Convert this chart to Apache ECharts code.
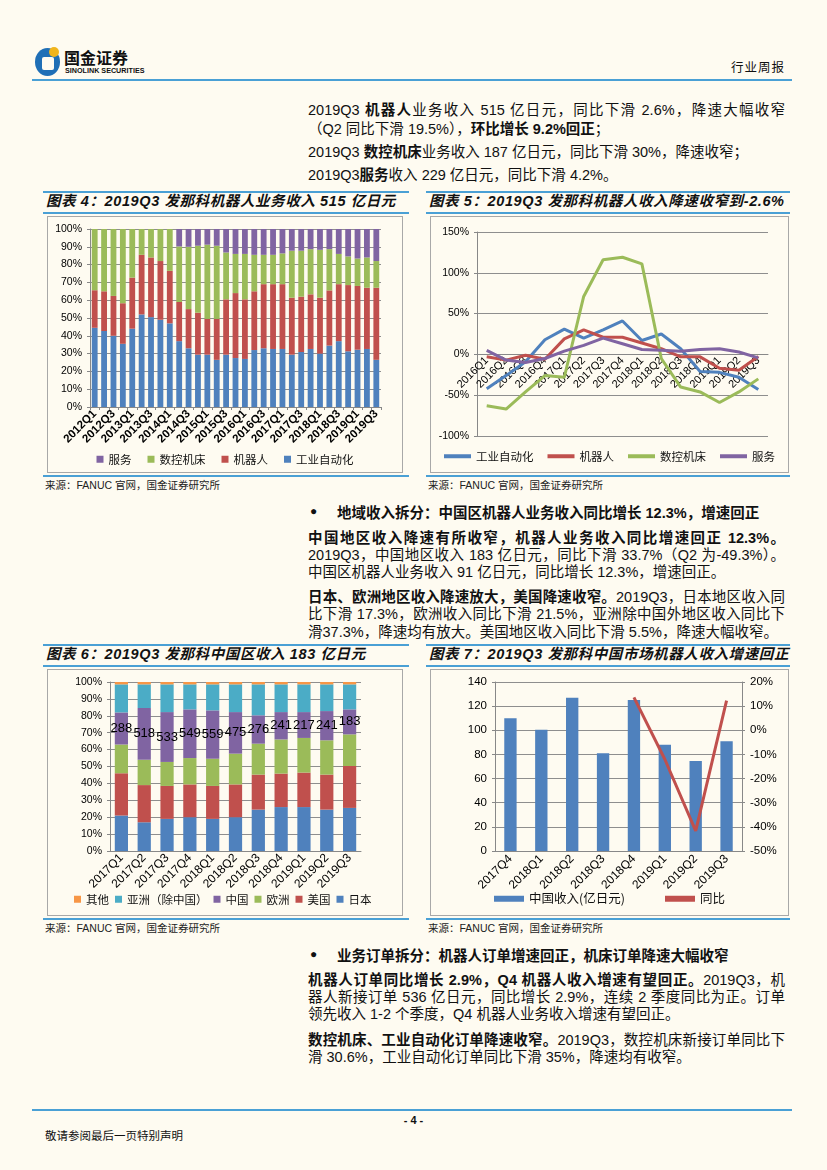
<!DOCTYPE html>
<html><head><meta charset="utf-8">
<script src="https://cdn.jsdelivr.net/npm/echarts@6/dist/echarts.min.js"></script>
<style>
html,body{margin:0;padding:0;}
body{width:827px;height:1170px;background:#fefbf1;position:relative;overflow:hidden;
 font-family:"Liberation Sans Narrow","Liberation Sans","Noto Sans CJK SC",sans-serif;color:#111;}
.abs{position:absolute;}
.hl{position:absolute;height:2px;background:#4aa0d5;}
.ln{position:absolute;left:308px;width:477px;font-size:14.5px;line-height:18px;height:18px;white-space:normal;}
.j{text-align:justify;text-align-last:justify;}
.ln b{font-weight:bold;}
.ttl{position:absolute;font-size:14.5px;font-weight:bold;font-style:italic;letter-spacing:0.6px;line-height:18px;
 font-family:"Liberation Sans","Noto Sans CJK SC",sans-serif;}
.src{position:absolute;font-size:10.5px;line-height:12px;color:#222;}
.box{position:absolute;border:1px solid #a8a8a8;box-sizing:border-box;}
.bul{position:absolute;left:310px;font-size:12px;}
</style></head>
<body>
<!-- header -->
<div class="abs" style="left:35px;top:48px;width:25px;height:28px;border-radius:50%;background:#1f6fb6;"></div>
<div class="abs" style="left:42px;top:57px;width:12px;height:13px;background:#fefbf1;border-radius:2px;"></div>
<div class="abs" style="left:49px;top:47px;width:10px;height:10px;border-radius:50%;background:#f1b51c;"></div>
<div class="abs" style="left:64px;top:47px;font-size:16px;font-weight:bold;font-family:'Noto Sans CJK SC';line-height:20px;">国金证券</div>
<div class="abs" style="left:65px;top:66px;font-size:7.2px;font-weight:bold;font-family:'Liberation Sans';line-height:9px;">SINOLINK SECURITIES</div>
<div class="abs" style="right:42px;top:59px;font-size:12.5px;line-height:16px;font-family:'Noto Sans CJK SC';letter-spacing:1px;">行业周报</div>
<div class="hl" style="left:32px;width:760px;top:79px;"></div>

<div class="ln j" style="top:101px;">2019Q3 <b>机器人</b>业务收入 515 亿日元，同比下滑 2.6%，降速大幅收窄</div>
<div class="ln" style="top:120px;">（Q2 同比下滑 19.5%），<b>环比增长 9.2%回正</b>；</div>
<div class="ln" style="top:143px;">2019Q3 <b>数控机床</b>业务收入 187 亿日元，同比下滑 30%，降速收窄；</div>
<div class="ln" style="top:166px;">2019Q3<b>服务</b>收入 229 亿日元，同比下滑 4.2%。</div>

<!-- chart titles row 1 -->
<div class="hl" style="left:43px;width:366px;top:191px;"></div>
<div class="hl" style="left:426px;width:364px;top:191px;"></div>
<div class="ttl" style="left:46px;top:192px;">图表 4：2019Q3 发那科机器人业务收入 515 亿日元</div>
<div class="ttl" style="left:429px;top:192px;">图表 5：2019Q3 发那科机器人收入降速收窄到-2.6%</div>
<div class="hl" style="left:43px;width:366px;top:212px;"></div>
<div class="hl" style="left:426px;width:364px;top:212px;"></div>
<div class="box" style="left:47px;top:216px;width:356px;height:257px;"></div>
<div class="box" style="left:430px;top:216px;width:359px;height:257px;"></div>
<div id="c4" class="abs" style="left:47px;top:216px;width:356px;height:257px;"></div>
<div id="c5" class="abs" style="left:430px;top:216px;width:359px;height:257px;"></div>
<div class="hl" style="left:43px;width:366px;top:475px;"></div>
<div class="hl" style="left:426px;width:364px;top:475px;"></div>
<div class="src" style="left:45px;top:479px;">来源：FANUC 官网，国金证券研究所</div>
<div class="src" style="left:428px;top:479px;">来源：FANUC 官网，国金证券研究所</div>

<div class="bul" style="top:504px;">●</div>
<div class="ln" style="left:337px;top:504px;width:450px;"><b>地域收入拆分：中国区机器人业务收入同比增长 12.3%，增速回正</b></div>
<div class="ln j" style="top:529px;"><b>中国地区收入降速有所收窄，机器人业务收入同比增速回正 12.3%。</b></div>
<div class="ln j" style="top:546px;">2019Q3，中国地区收入 183 亿日元，同比下滑 33.7%（Q2 为-49.3%）。</div>
<div class="ln" style="top:563px;">中国区机器人业务收入 91 亿日元，同比增长 12.3%，增速回正。</div>
<div class="ln j" style="top:588px;"><b>日本、欧洲地区收入降速放大，美国降速收窄。</b>2019Q3，日本地区收入同</div>
<div class="ln j" style="top:605px;">比下滑 17.3%，欧洲收入同比下滑 21.5%，亚洲除中国外地区收入同比下</div>
<div class="ln j" style="top:623px;width:470px;">滑37.3%，降速均有放大。美国地区收入同比下滑 5.5%，降速大幅收窄。</div>

<!-- chart titles row 2 -->
<div class="hl" style="left:43px;width:366px;top:644px;"></div>
<div class="hl" style="left:426px;width:364px;top:644px;"></div>
<div class="ttl" style="left:46px;top:645px;">图表 6：2019Q3 发那科中国区收入 183 亿日元</div>
<div class="ttl" style="left:429px;top:645px;">图表 7：2019Q3 发那科中国市场机器人收入增速回正</div>
<div class="hl" style="left:43px;width:366px;top:665px;"></div>
<div class="hl" style="left:426px;width:364px;top:665px;"></div>
<div class="box" style="left:47px;top:669px;width:356px;height:247px;"></div>
<div class="box" style="left:430px;top:669px;width:359px;height:247px;"></div>
<div id="c6" class="abs" style="left:47px;top:669px;width:356px;height:247px;"></div>
<div id="c7" class="abs" style="left:430px;top:669px;width:359px;height:247px;"></div>
<div class="hl" style="left:43px;width:366px;top:918px;"></div>
<div class="hl" style="left:426px;width:364px;top:918px;"></div>
<div class="src" style="left:45px;top:922px;">来源：FANUC 官网，国金证券研究所</div>
<div class="src" style="left:428px;top:922px;">来源：FANUC 官网，国金证券研究所</div>

<div class="bul" style="top:947px;">●</div>
<div class="ln" style="left:337px;top:947px;width:450px;"><b>业务订单拆分：机器人订单增速回正，机床订单降速大幅收窄</b></div>
<div class="ln j" style="top:971px;"><b>机器人订单同比增长 2.9%，Q4 机器人收入增速有望回正。</b>2019Q3，机</div>
<div class="ln j" style="top:988px;">器人新接订单 536 亿日元，同比增长 2.9%，连续 2 季度同比为正。订单</div>
<div class="ln" style="top:1005px;">领先收入 1-2 个季度，Q4 机器人业务收入增速有望回正。</div>
<div class="ln j" style="top:1031px;"><b>数控机床、工业自动化订单降速收窄。</b>2019Q3，数控机床新接订单同比下</div>
<div class="ln" style="top:1048px;">滑 30.6%，工业自动化订单同比下滑 35%，降速均有收窄。</div>

<div class="hl" style="left:32px;width:760px;top:1109px;"></div>
<div class="abs" style="left:400px;top:1113px;width:27px;text-align:center;font-size:11px;font-weight:bold;line-height:14px;">- 4 -</div>
<div class="abs" style="left:45px;top:1128px;font-size:11.5px;line-height:14px;font-family:'Noto Sans CJK SC';">敬请参阅最后一页特别声明</div>

<script>
// ---------- data ----------
const quarters4 = ['2012Q1','2012Q2','2012Q3','2012Q4','2013Q1','2013Q2','2013Q3','2013Q4','2014Q1','2014Q2','2014Q3','2014Q4','2015Q1','2015Q2','2015Q3','2015Q4','2016Q1','2016Q2','2016Q3','2016Q4','2017Q1','2017Q2','2017Q3','2017Q4','2018Q1','2018Q2','2018Q3','2018Q4','2019Q1','2019Q2','2019Q3'];
const shareFA    = [44.5,42.7,40,35.5,44,52,50.5,49,47,37,33,29.4,29.4,26.5,29.4,27.5,27,32,33,32.6,32.6,29.4,30.9,32.6,30,34.5,37,31.3,32.2,32.6,26.5];
const shareRobot = [21.1,22.3,22.4,22.8,28.7,33.5,33.5,33,29.5,22,22,23.6,20.1,23,31.1,36.5,33.5,33,36,36.4,36.4,32,31.1,30.7,31.4,31,32,37.2,35.8,34.4,40.5];
const shareCNC   = [34.4,35,37.6,41.7,27.3,14.5,16,18,23.5,31.2,35,37.6,41.7,41.1,26.3,22,25.5,20.5,16.5,16.5,17.3,26.4,25.8,25.4,26.9,23.2,17,16.1,15.4,17,15];
const shareSvc   = [0,0,0,0,0,0,0,0,0,9.8,10,9.4,8.8,9.4,13.2,14,14,14.5,14.5,14.5,13.7,12.2,12.2,11.3,11.7,11.3,14,15.4,16.6,16,18];

const quarters5 = ['2016Q1','2016Q2','2016Q3','2016Q4','2017Q1','2017Q2','2017Q3','2017Q4','2018Q1','2018Q2','2018Q3','2018Q4','2019Q1','2019Q2','2019Q3'];
const yoyFA    = [-42,-26,-9,18,31,20,30,41,17,25,7,-21,-22,-28,-43];
const yoyRobot = [-3,-7,-1,-6,19,30,21,21,14,7,-3,-3,-17,-19.5,-2.6];
const yoyCNC   = [-63,-67,-46,-26,-28,71,116,119,111,-5,-40,-46,-59,-46,-30];
const yoySvc   = [5,-7,-10,-5,4,11,20,13,6,5,4,6,7,3,-4.2];

const quarters6 = ['2017Q1','2017Q2','2017Q3','2017Q4','2018Q1','2018Q2','2018Q3','2018Q4','2019Q1','2019Q2','2019Q3'];
const regJapan = [21,17,19,20,19,20,24.5,26,26,24.5,25.5];
const regUS    = [25,22,19.5,19.4,19.5,19.4,20.7,19.8,20.4,20.7,24.8];
const regEU    = [17,15,14.2,15.6,16.1,18.2,18.3,20.2,20.5,20.3,18.7];
const regChina = [19,30.6,29.5,28.8,28.6,24.6,16.8,16.2,15.3,17.3,14.8];
const regAsia  = [16.6,14,16.4,14.8,15.4,16.4,18.3,16.4,16.4,15.8,14.8];
const regOther = [1.4,1.4,1.4,1.4,1.4,1.4,1.4,1.4,1.4,1.4,1.4];
const chinaRevenue = [288,518,533,549,559,475,276,241,217,241,183];

const quarters7 = ['2017Q4','2018Q1','2018Q2','2018Q3','2018Q4','2019Q1','2019Q2','2019Q3'];
const chinaRobotRev = [110,100.5,127,81,125,88,74.5,91];
const chinaRobotYoy = [null,null,null,null,13.6,-12,-41.7,12.3];

// ---------- style ----------
const C = {blue:'#4F81BD',red:'#C0504D',green:'#9BBB59',purple:'#8064A2',teal:'#4BACC6',orange:'#F79646'};
const FF = '"Liberation Sans", "Noto Sans CJK SC", sans-serif';
const CF = '"Noto Sans CJK SC", sans-serif';
const gridColor = '#8e8e8e';
const axisLbl = {color:'#000',fontSize:10.5,fontFamily:FF};

function initChart(id){ return echarts.init(document.getElementById(id), null, {renderer:'canvas'}); }

// Chart 4
initChart('c4').setOption({
  animation:false,
  grid:{left:43,right:22,top:13,bottom:66},
  legend:{data:['服务','数控机床','机器人','工业自动化'],bottom:3,left:'center',itemWidth:7,itemHeight:7,itemGap:16,icon:'rect',
    textStyle:{fontSize:11.5,fontFamily:CF,color:'#111'}},
  xAxis:{type:'category',data:quarters4,
    axisLabel:Object.assign({},axisLbl,{interval:1,rotate:45,margin:5,fontWeight:'bold',fontSize:11.5}),
    axisTick:{show:true,interval:0,length:3,lineStyle:{color:'#888'}},
    axisLine:{lineStyle:{color:'#888'}}},
  yAxis:{type:'value',min:0,max:100,interval:10,
    axisLabel:Object.assign({},axisLbl,{formatter:'{value}%'}),
    axisLine:{show:true,lineStyle:{color:'#888'}},axisTick:{show:true,length:3,lineStyle:{color:'#888'}},
    splitLine:{lineStyle:{color:gridColor}}},
  series:[
    {name:'工业自动化',type:'bar',stack:'s',data:shareFA,itemStyle:{color:C.blue},barWidth:'62%'},
    {name:'机器人',type:'bar',stack:'s',data:shareRobot,itemStyle:{color:C.red}},
    {name:'数控机床',type:'bar',stack:'s',data:shareCNC,itemStyle:{color:C.green}},
    {name:'服务',type:'bar',stack:'s',data:shareSvc,itemStyle:{color:C.purple}}
  ]
});

// Chart 5
const lineS = (name,data,color)=>({name,type:'line',data,symbol:'none',lineStyle:{width:3,color},itemStyle:{color}});
const c5 = initChart('c5');
c5.setOption({
  animation:false,
  grid:{left:47,right:21,top:16,bottom:37},
  legend:{data:['工业自动化','机器人','数控机床','服务'],bottom:6,left:'center',itemWidth:27,itemHeight:4,itemGap:14,icon:'rect',
    textStyle:{fontSize:11.5,fontFamily:CF,color:'#111'}},
  xAxis:{type:'category',data:quarters5,boundaryGap:true,
    axisLabel:Object.assign({},axisLbl,{interval:0,rotate:45,margin:4,fontSize:11}),
    axisTick:{show:false},axisLine:{onZero:false,lineStyle:{color:'#888'}}},
  yAxis:{type:'value',min:-100,max:150,interval:50,
    axisLabel:Object.assign({},axisLbl,{formatter:'{value}%'}),
    axisLine:{show:true,lineStyle:{color:'#888'}},axisTick:{show:true,length:3,lineStyle:{color:'#888'}},
    splitLine:{lineStyle:{color:gridColor}}},
  series:[lineS('工业自动化',yoyFA,C.blue),lineS('机器人',yoyRobot,C.red),lineS('数控机床',yoyCNC,C.green),lineS('服务',yoySvc,C.purple)]
});
// move the category axis up to the zero line of the value axis
(function(){
  const yZero = c5.convertToPixel({yAxisIndex:0}, 0);
  const yMin = c5.convertToPixel({yAxisIndex:0}, -100);
  c5.setOption({xAxis:{offset:-(yMin - yZero)}});
})();

// Chart 6
initChart('c6').setOption({
  animation:false,
  grid:{left:63,right:42,top:13,bottom:65},
  legend:{data:['其他','亚洲（除中国）','中国','欧洲','美国','日本'],bottom:6,left:22,itemWidth:7,itemHeight:7,itemGap:6,icon:'rect',
    textStyle:{fontSize:11.5,fontFamily:CF,color:'#111'}},
  xAxis:{type:'category',data:quarters6,
    axisLabel:Object.assign({},axisLbl,{interval:0,rotate:45,margin:5,fontSize:12}),
    axisTick:{show:false},axisLine:{lineStyle:{color:'#888'}}},
  yAxis:{type:'value',min:0,max:100,interval:10,
    axisLabel:Object.assign({},axisLbl,{formatter:'{value}%'}),
    axisLine:{show:true,lineStyle:{color:'#888'}},axisTick:{show:true,length:3,lineStyle:{color:'#888'}},
    splitLine:{lineStyle:{color:gridColor}}},
  series:[
    {name:'日本',type:'bar',stack:'s',data:regJapan,itemStyle:{color:C.blue},barWidth:'58%'},
    {name:'美国',type:'bar',stack:'s',data:regUS,itemStyle:{color:C.red}},
    {name:'欧洲',type:'bar',stack:'s',data:regEU,itemStyle:{color:C.green}},
    {name:'中国',type:'bar',stack:'s',data:regChina,itemStyle:{color:C.purple},
      label:{show:true,position:'inside',color:'#000',fontSize:13,fontFamily:FF,
        formatter:p=>String(chinaRevenue[p.dataIndex])}},
    {name:'亚洲（除中国）',type:'bar',stack:'s',data:regAsia,itemStyle:{color:C.teal}},
    {name:'其他',type:'bar',stack:'s',data:regOther,itemStyle:{color:C.orange}}
  ]
});

// Chart 7
initChart('c7').setOption({
  animation:false,
  grid:{left:65,right:47,top:13,bottom:65},
  legend:{data:['中国收入(亿日元)','同比'],bottom:6,left:'center',itemWidth:30,itemHeight:6,itemGap:40,icon:'rect',
    textStyle:{fontSize:12.5,fontFamily:CF,color:'#111'}},
  xAxis:{type:'category',data:quarters7,
    axisLabel:Object.assign({},axisLbl,{interval:0,rotate:45,margin:6,fontSize:12}),
    axisTick:{show:false},axisLine:{lineStyle:{color:'#888'}}},
  yAxis:[
    {type:'value',min:0,max:140,interval:20,axisLabel:Object.assign({},axisLbl,{fontSize:11.5}),
      axisLine:{show:true,lineStyle:{color:'#888'}},axisTick:{show:true,length:3,lineStyle:{color:'#888'}},
      splitLine:{lineStyle:{color:gridColor}}},
    {type:'value',min:-50,max:20,interval:10,position:'right',axisLabel:Object.assign({},axisLbl,{fontSize:11.5,formatter:'{value}%'}),
      axisLine:{show:true,lineStyle:{color:'#888'}},axisTick:{show:true,length:3,lineStyle:{color:'#888'}},
      splitLine:{show:false}}
  ],
  series:[
    {name:'中国收入(亿日元)',type:'bar',data:chinaRobotRev,itemStyle:{color:C.blue},barWidth:'40%'},
    {name:'同比',type:'line',yAxisIndex:1,data:chinaRobotYoy,symbol:'none',connectNulls:false,
      lineStyle:{width:3,color:C.red},itemStyle:{color:C.red}}
  ]
});
</script>
</body></html>
